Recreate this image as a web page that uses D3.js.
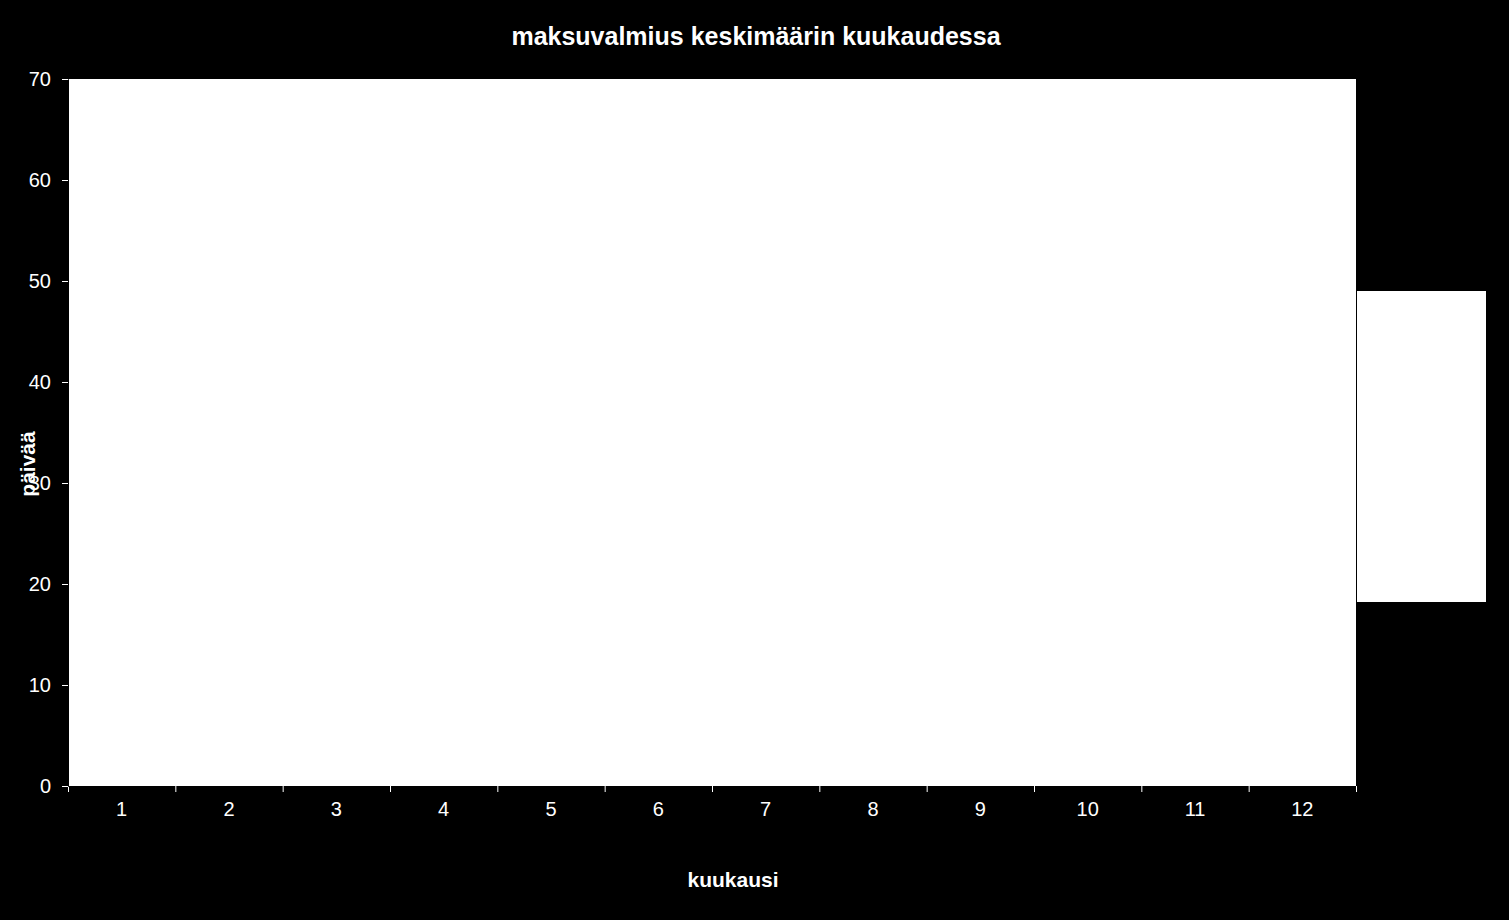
<!DOCTYPE html>
<html>
<head>
<meta charset="utf-8">
<script src="https://cdn.jsdelivr.net/npm/d3@7"></script>
<style>
  body { margin: 0; background: #000; }
  text { font-family: "Liberation Sans", Arial, sans-serif; fill: #fff; }
</style>
</head>
<body>
<div id="chart-area"></div>
<script>
// months on x axis, series values not shown in the picture (empty series)
const months = ["1", "2", "3", "4", "5", "6", "7", "8", "9", "10", "11", "12"]
const days = [null, null, null, null, null, null, null, null, null, null, null, null]
const yTicks = [0, 10, 20, 30, 40, 50, 60, 70]

const FWidth = 1509, FHeight = 920
const MARGIN = { LEFT: 68, RIGHT: 153, TOP: 79, BOTTOM: 134 }
const WIDTH = FWidth - (MARGIN.LEFT + MARGIN.RIGHT)
const HEIGHT = FHeight - (MARGIN.TOP + MARGIN.BOTTOM)

const svg = d3.select("#chart-area").append("svg")
  .attr("width", FWidth)
  .attr("height", FHeight)

svg.append("rect")
  .attr("width", FWidth)
  .attr("height", FHeight)
  .attr("fill", "#000")

// title
svg.append("text")
  .attr("x", 756)
  .attr("y", 45)
  .attr("font-size", "25px")
  .attr("font-weight", "bold")
  .attr("text-anchor", "middle")
  .text("maksuvalmius keskimäärin kuukaudessa")

const g = svg.append("g")
  .attr("transform", `translate(${MARGIN.LEFT}, ${MARGIN.TOP})`)

// plot area
g.append("rect")
  .attr("width", WIDTH)
  .attr("height", HEIGHT)
  .attr("fill", "#fff")

const x = d3.scaleBand()
  .domain(months)
  .range([0, WIDTH])

const y = d3.scaleLinear()
  .domain([0, 70])
  .range([HEIGHT, 0])

// bars (series has no visible values)
g.selectAll("rect.bar").data(days.filter(d => d != null))
  .enter().append("rect")
  .attr("class", "bar")
  .attr("x", (d, i) => x(months[i]))
  .attr("y", d => y(d))
  .attr("width", x.bandwidth())
  .attr("height", d => HEIGHT - y(d))
  .attr("fill", "#fff")

// X axis
const xAxisCall = d3.axisBottom(x).tickSize(0).tickPadding(16)
const xAxis = g.append("g")
  .attr("transform", `translate(0, ${HEIGHT})`)
  .call(xAxisCall)
xAxis.select(".domain").attr("stroke", "#000")
xAxis.selectAll("text")
  .attr("font-size", "20px")
  .attr("fill", "#fff")
  .style("font-family", "'Liberation Sans', Arial, sans-serif")

// boundary ticks between categories
const bounds = months.map(m => x(m)).concat([WIDTH])
xAxis.selectAll("line.bound").data(bounds)
  .enter().append("line")
  .attr("class", "bound")
  .attr("x1", d => d + 0.5)
  .attr("x2", d => d + 0.5)
  .attr("y1", 0)
  .attr("y2", 6)
  .attr("stroke", "#fff")

// Y axis
const yAxisCall = d3.axisLeft(y).tickValues(yTicks).tickSize(6).tickPadding(11)
const yAxis = g.append("g").call(yAxisCall)
yAxis.select(".domain").attr("stroke", "#000")
yAxis.selectAll(".tick line").attr("stroke", "#fff")
yAxis.selectAll("text")
  .attr("font-size", "20px")
  .attr("fill", "#fff")
  .style("font-family", "'Liberation Sans', Arial, sans-serif")

// X label
svg.append("text")
  .attr("x", 733)
  .attr("y", 887)
  .attr("font-size", "21px")
  .attr("font-weight", "bold")
  .attr("text-anchor", "middle")
  .text("kuukausi")

// Y label
svg.append("text")
  .attr("transform", "translate(35, 464) rotate(-90)")
  .attr("font-size", "21px")
  .attr("font-weight", "bold")
  .attr("text-anchor", "middle")
  .text("päivää")

// legend box (empty)
svg.append("rect")
  .attr("x", 1357)
  .attr("y", 291)
  .attr("width", 129)
  .attr("height", 311)
  .attr("fill", "#fff")
</script>
</body>
</html>
